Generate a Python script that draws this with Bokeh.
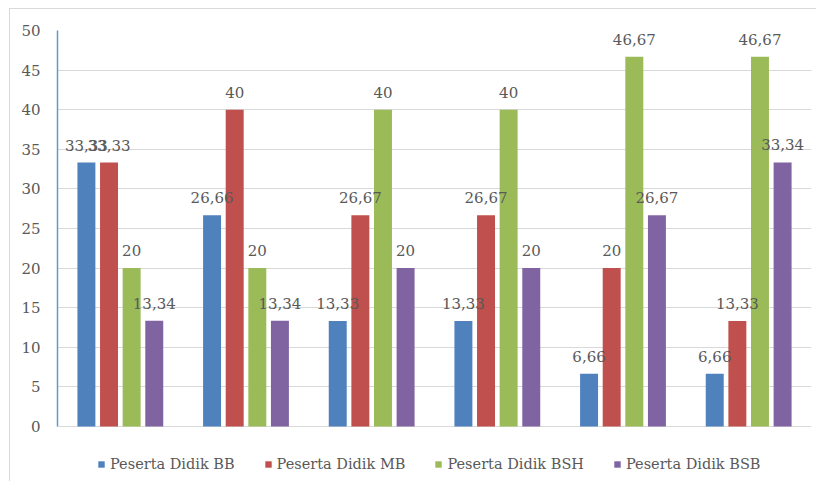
from bokeh.plotting import figure
from bokeh.models import ColumnDataSource, FactorRange, Legend, LegendItem, Range1d, FixedTicker
from bokeh.transform import dodge
from bokeh.core.properties import value
from bokeh.embed import file_html
from bokeh.resources import INLINE

groups = ["1", "2", "3", "4", "5", "6"]
series = ["Peserta Didik BB", "Peserta Didik MB", "Peserta Didik BSH", "Peserta Didik BSB"]
bb = [33.33, 26.66, 13.33, 13.33, 6.66, 6.66]
mb = [33.33, 40, 26.67, 26.67, 20, 13.33]
bsh = [20, 20, 40, 40, 46.67, 46.67]
bsb = [13.34, 13.34, 20, 20, 26.67, 33.34]
y_ticks = [0, 5, 10, 15, 20, 25, 30, 35, 40, 45, 50]
colors = ["#4f81bd", "#c0504d", "#9bbb59", "#8064a2"]

def fmt(v):
    s = ("%.2f" % v).rstrip("0").rstrip(".")
    return s.replace(".", ",")

data = {"grp": groups}
keys = ["bb", "mb", "bsh", "bsb"]
for k, vals in zip(keys, [bb, mb, bsh, bsb]):
    data[k] = vals
    data[k + "_lbl"] = [fmt(v) for v in vals]
src = ColumnDataSource(data)

FONT = "DejaVu Serif"
GRAY = "#595959"

p = figure(width=807, height=473, x_range=FactorRange(*groups), y_range=Range1d(-7.07, 50),
           output_backend="svg", toolbar_location=None,
           min_border_left=47, min_border_right=6, min_border_top=21, min_border_bottom=0)
p.margin = (8, 0, 0, 9)
p.styles = {"border-top": "1px solid #d9d9d9", "border-left": "1px solid #d9d9d9"}
p.outline_line_color = None
p.background_fill_color = "white"
p.border_fill_color = "white"

offsets = [-0.27, -0.09, 0.09, 0.27]
items = []
for k, name, c, off in zip(keys, series, colors, offsets):
    r = p.vbar(x=dodge("grp", off, range=p.x_range), top=k, width=0.143, source=src,
               fill_color=c, line_color=None)
    items.append(LegendItem(label=name, renderers=[r]))
for k, off in zip(keys, offsets):
    p.text(x=dodge("grp", off, range=p.x_range), y=k, text=k + "_lbl", source=src,
           text_align="center", text_baseline="bottom", y_offset=-12,
           text_font=value(FONT), text_font_size="15px", text_color=GRAY)

p.xaxis.visible = False
p.xgrid.visible = False
p.ygrid.grid_line_color = "#d9d9d9"
p.ygrid.grid_line_width = 1

p.yaxis.ticker = FixedTicker(ticks=y_ticks)
p.yaxis.bounds = (0, 50)
p.yaxis.axis_line_color = "#5b9bd5"
p.yaxis.axis_line_width = 1.5
p.yaxis.major_tick_line_color = None
p.yaxis.major_tick_out = 0
p.yaxis.major_tick_in = 0
p.yaxis.minor_tick_line_color = None
p.yaxis.major_label_standoff = 17
p.yaxis.major_label_text_font = FONT
p.yaxis.major_label_text_font_size = "15px"
p.yaxis.major_label_text_color = GRAY

legend = Legend(items=items, orientation="horizontal", location=(40, 10),
                glyph_width=8, glyph_height=8, label_standoff=5, spacing=29,
                label_text_font=FONT, label_text_font_size="14.5px", label_text_color=GRAY,
                border_line_color=None, background_fill_alpha=0, margin=0, padding=4)
p.add_layout(legend)

open("out.html", "w").write(file_html(p, INLINE))
